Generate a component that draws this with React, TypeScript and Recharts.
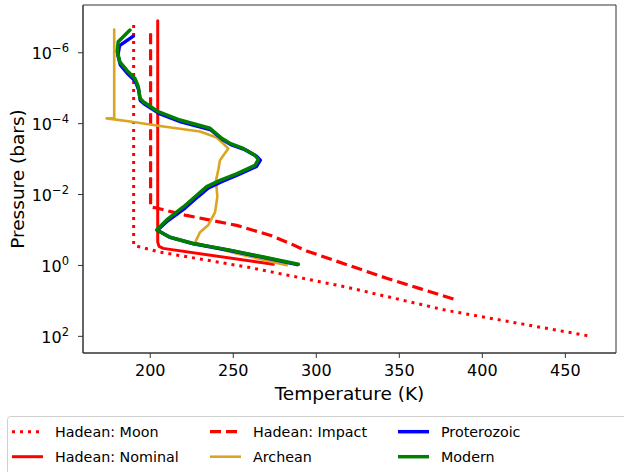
import { LineChart, Line, XAxis, YAxis, ReferenceArea } from "recharts";

// temperature (K) / pressure (bar) profiles
const moonT = [190, 190, 205.8, 260.1, 318.3, 378.6, 465.5];
const moonP = [1.65e-7, 0.27, 0.42, 1.15, 4.1, 18.6, 100];

const nominalT = [204.5, 204.5, 205.3, 207.8, 274.1];
const nominalP = [1.26e-7, 0.22, 0.29, 0.33, 0.93];

const impactT = [200.2, 200.2, 203.9, 220.9, 252, 272.1, 284.2, 294.2, 342.4, 362.5, 384.6];
const impactP = [2.8e-7, 0.0224, 0.024, 0.038, 0.074, 0.14, 0.24, 0.39, 2.3, 4.5, 9.5];

const archeanT = [178.3, 178.3, 173.7, 187.8, 205.8, 229.9, 240, 247, 242, 241, 239.6, 240.4, 239, 235, 230, 226.9, 253.8, 282.2];
const archeanP = [2.2e-7, 7.1e-5, 7.1e-5, 8.7e-5, 1.17e-4, 1.66e-4, 2.45e-4, 5.0e-4, 1.07e-3, 2.0e-3, 4.0e-3, 0.0117, 0.032, 0.072, 0.115, 0.23, 0.48, 0.99];

const proteroT = [189.8, 181.5, 180.5, 182, 186, 191, 193, 194, 196.5, 205.5, 218.5, 236.5, 243.5, 248.5, 257, 264, 266.3, 264, 253, 243, 235, 229, 221, 210.5, 204.3, 212, 226, 248, 268, 288.5];
const proteroP = [3.4e-7, 6.3e-7, 1.17e-6, 2.2e-6, 3.7e-6, 6.3e-6, 1.1e-5, 2.2e-5, 2.8e-5, 5.2e-5, 8.9e-5, 1.5e-4, 2.8e-4, 3.9e-4, 5.4e-4, 8.3e-4, 1.07e-3, 1.6e-3, 2.75e-3, 4.3e-3, 6.5e-3, 0.0112, 0.024, 0.055, 0.102, 0.162, 0.245, 0.38, 0.59, 0.95];

const modernT = [187.8, 180.7, 180.1, 181.7, 185.8, 190.8, 192.8, 193.8, 195.8, 204.8, 217.9, 236, 243, 248, 256, 263.1, 265.1, 263.1, 252, 242, 234, 228, 219.9, 209.9, 203.9, 211.9, 225.9, 248, 268.1, 289.2];
const modernP = [2.3e-7, 4.9e-7, 9.3e-7, 1.8e-6, 3.1e-6, 5.3e-6, 9.1e-6, 1.9e-5, 2.4e-5, 4.6e-5, 7.9e-5, 1.35e-4, 2.6e-4, 3.6e-4, 5.0e-4, 7.8e-4, 1.03e-3, 1.5e-3, 2.6e-3, 4.0e-3, 6.0e-3, 0.0105, 0.0224, 0.052, 0.1, 0.16, 0.24, 0.37, 0.58, 0.93];

const tempTicks = [200, 250, 300, 350, 400, 450];
const pressureTicks = [1e-6, 1e-4, 1e-2, 1, 100];

const tempDomain = [159.5, 480.5];
const pressureDomain = [4.5e-8, 295];

const FONT = "DejaVu Sans";

const toPoints = (t: number[], p: number[]) => t.map((v, i) => ({ t: v, p: p[i] }));

const series = [
  { name: "Hadean: Moon", t: moonT, p: moonP, color: "#ff0000", width: 3, dash: "3 5" },
  { name: "Hadean: Nominal", t: nominalT, p: nominalP, color: "#ff0000", width: 3, dash: undefined },
  { name: "Hadean: Impact", t: impactT, p: impactP, color: "#ff0000", width: 3.2, dash: "11 5" },
  { name: "Archean", t: archeanT, p: archeanP, color: "#daa520", width: 2.6, dash: undefined },
  { name: "Proterozoic", t: proteroT, p: proteroP, color: "#0000ff", width: 3.5, dash: undefined },
  { name: "Modern", t: modernT, p: modernP, color: "#008000", width: 3.5, dash: undefined },
];

function PowerTick({ x, y, payload }: any) {
  const e = Math.round(Math.log10(payload.value));
  return (
    <text x={x} y={y + 6.5} textAnchor="end" fontSize={16} fontFamily={FONT} fill="#000">
      10
      <tspan dy={-7} fontSize={11.5}>
        {e < 0 ? "\u2212" + -e : String(e)}
      </tspan>
    </text>
  );
}

function PressureTitle({ viewBox }: any) {
  const cx = 17;
  const cy = viewBox.y + viewBox.height / 2;
  return (
    <text
      x={cx}
      y={cy}
      transform={`rotate(-90, ${cx}, ${cy})`}
      textAnchor="middle"
      dominantBaseline="central"
      fontSize={18.5}
      fontFamily={FONT}
      fill="#000"
    >
      Pressure (bars)
    </text>
  );
}

// legend layout (column-major, like matplotlib ncol=3)
const legendCols = [12, 210, 398];
const legendRows = [431.7, 456.7];

function LegendBox() {
  return (
    <svg width={624} height={472} style={{ position: "absolute", left: 0, top: 0, pointerEvents: "none" }}>
      <rect x={7.5} y={416.5} width={650} height={80} rx={3} fill="#fff" stroke="#d0d0d0" strokeWidth={1} />
      {series.map((s, i) => {
        const x = legendCols[Math.floor(i / 2)];
        const y = legendRows[i % 2];
        return (
          <g key={s.name}>
            <line x1={x} x2={x + 31} y1={y} y2={y} stroke={s.color} strokeWidth={s.width} strokeDasharray={s.dash} />
            <text x={x + 43} y={y} dominantBaseline="central" fontSize={14.3} fontFamily={FONT} fill="#000">
              {s.name}
            </text>
          </g>
        );
      })}
    </svg>
  );
}

export default function App() {
  return (
    <div
      style={{
        position: "absolute",
        left: 0,
        top: 0,
        width: 624,
        height: 472,
        overflow: "hidden",
        background: "#fff",
        fontFamily: FONT,
      }}
    >
      <LineChart width={624} height={472} margin={{ top: 5, right: 8, bottom: 69, left: 0 }}>
        <XAxis
          dataKey="t"
          type="number"
          domain={tempDomain}
          allowDataOverflow
          ticks={tempTicks}
          height={50}
          tickSize={5}
          tickMargin={7}
          stroke="#333"
          tick={{ fontSize: 16, fill: "#000", fontFamily: FONT }}
          label={{ value: "Temperature (K)", position: "insideBottom", offset: 3, fontSize: 18.5, fill: "#000", fontFamily: FONT }}
        />
        <YAxis
          dataKey="p"
          type="number"
          scale="log"
          reversed
          domain={pressureDomain}
          allowDataOverflow
          ticks={pressureTicks}
          width={83}
          tickSize={5}
          tickMargin={9}
          stroke="#333"
          tick={<PowerTick />}
          label={<PressureTitle />}
        />
        {/* axes frame */}
        <ReferenceArea
          x1={tempDomain[0]}
          x2={tempDomain[1]}
          y1={pressureDomain[0]}
          y2={pressureDomain[1]}
          fill="none"
          stroke="#333"
          strokeWidth={1}
          ifOverflow="visible"
        />
        {series.map((s) => (
          <Line
            key={s.name}
            data={toPoints(s.t, s.p)}
            dataKey="p"
            type="linear"
            stroke={s.color}
            strokeWidth={s.width}
            strokeDasharray={s.dash}
            strokeLinejoin="round"
            strokeLinecap={s.dash ? "butt" : "round"}
            dot={false}
            activeDot={false}
            isAnimationActive={false}
          />
        ))}
      </LineChart>
      <LegendBox />
    </div>
  );
}
